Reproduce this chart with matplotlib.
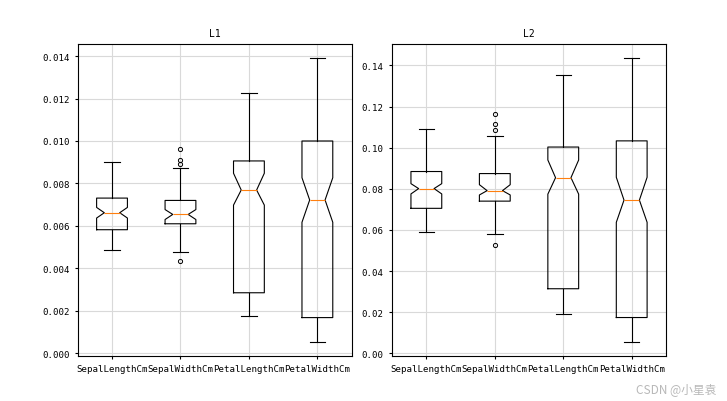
import matplotlib
matplotlib.use("Agg")
import matplotlib.pyplot as plt

plt.rcParams["font.family"] = ["DejaVu Sans Mono", "Noto Sans CJK SC"]

features = ["SepalLengthCm", "SepalWidthCm", "PetalLengthCm", "PetalWidthCm"]

# L1-normierte Spalten
l1_whislo = [0.00488, 0.00478, 0.00176, 0.00054]
l1_q1 = [0.00582, 0.00610, 0.00285, 0.00168]
l1_med = [0.00662, 0.00654, 0.00769, 0.00722]
l1_q3 = [0.00731, 0.00720, 0.00906, 0.01000]
l1_whishi = [0.00903, 0.00873, 0.01224, 0.01390]
l1_cilo = [0.00637, 0.00630, 0.00698, 0.00617]
l1_cihi = [0.00687, 0.00677, 0.00848, 0.00827]
l1_fliers = [[], [0.00962, 0.00910, 0.00892, 0.00436], [], []]

# L2-normierte Spalten
l2_whislo = [0.0591, 0.0582, 0.0192, 0.0056]
l2_q1 = [0.0705, 0.0740, 0.0314, 0.0174]
l2_med = [0.0801, 0.0791, 0.0854, 0.0745]
l2_q3 = [0.0884, 0.0874, 0.1003, 0.1033]
l2_whishi = [0.1093, 0.1057, 0.1354, 0.1435]
l2_cilo = [0.0775, 0.0770, 0.0774, 0.0637]
l2_cihi = [0.0825, 0.0820, 0.0940, 0.0856]
l2_fliers = [[], [0.1163, 0.1114, 0.1086, 0.0526], [], []]


def stats(whislo, q1, med, q3, whishi, cilo, cihi, fliers):
    out = []
    for i, name in enumerate(features):
        out.append(dict(label=name, whislo=whislo[i], q1=q1[i], med=med[i],
                        q3=q3[i], whishi=whishi[i], cilo=cilo[i],
                        cihi=cihi[i], fliers=fliers[i]))
    return out


fig, axs = plt.subplots(1, 2, figsize=(7.27, 4.02), dpi=100)
fig.subplots_adjust(left=0.107, right=0.916, bottom=0.112, top=0.888,
                    wspace=0.148)

paneles = [
    ("L1", stats(l1_whislo, l1_q1, l1_med, l1_q3, l1_whishi, l1_cilo,
                 l1_cihi, l1_fliers)),
    ("L2", stats(l2_whislo, l2_q1, l2_med, l2_q3, l2_whishi, l2_cilo,
                 l2_cihi, l2_fliers)),
]

for ax, (titulo, st) in zip(axs, paneles):
    ax.bxp(st, shownotches=True, widths=0.45,
           boxprops=dict(linewidth=0.8),
           whiskerprops=dict(linewidth=0.8),
           capprops=dict(linewidth=0.8),
           medianprops=dict(color="C1", linewidth=0.8),
           flierprops=dict(marker="o", markersize=3, markeredgewidth=0.7,
                           markerfacecolor="none"))
    ax.grid(True, color="0.85", linewidth=0.8)
    ax.set_axisbelow(True)
    ax.set_title(titulo, fontsize=7)
    ax.tick_params(labelsize=6.6, length=2.5, width=0.8)
    for s in ax.spines.values():
        s.set_linewidth(0.8)

fig.text(0.985, 0.032, "CSDN @小星袁", ha="right", va="center",
         fontsize=8.5, color="0.72", family=["Noto Sans CJK SC"])

fig.savefig("out.png", facecolor="white")
